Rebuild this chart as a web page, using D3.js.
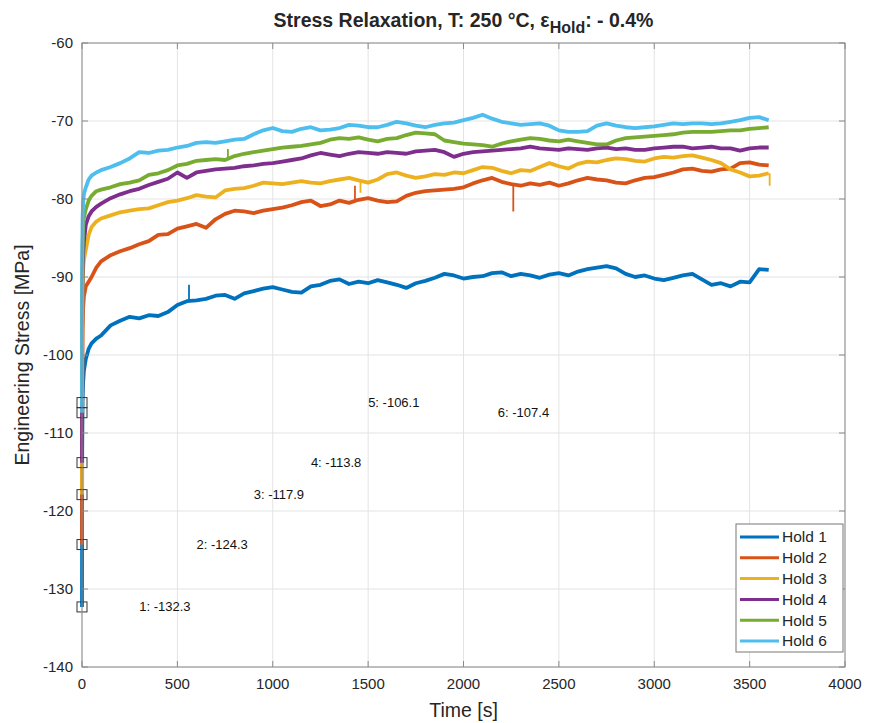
<!DOCTYPE html>
<html>
<head>
<meta charset="utf-8">
<script src="https://cdn.jsdelivr.net/npm/d3@7"></script>
<style>
  body { margin: 0; background: #fff; }
  text { font-family: "Liberation Sans", Arial, sans-serif; fill: #262626; }
</style>
</head>
<body>
<script>
// sample times [s]: dense at the start, then every 50 s
var times = [0, 1, 3, 6, 10, 20, 35, 50, 75];
for (var t = 100; t <= 3600; t += 50) times.push(t);

var names = ["Hold 1", "Hold 2", "Hold 3", "Hold 4", "Hold 5", "Hold 6"];
var colors = ["#0072BD", "#D95319", "#EDB120", "#7E2F8E", "#77AC30", "#4DBEEE"];

var hold1 = [-132.3, -112, -106, -103.5, -102, -100.5, -99.2, -98.5, -97.9,
  -97.5, -96.2, -95.6, -95.1, -95.3, -94.9, -95.0, -94.5, -93.6, -93.1,
  -93.0, -92.8, -92.4, -92.3, -92.8, -92.1, -91.8, -91.5, -91.3, -91.6,
  -91.9, -92.0, -91.2, -91.0, -90.5, -90.3, -90.9, -90.6, -90.8, -90.4,
  -90.7, -91.0, -91.4, -90.8, -90.5, -90.1, -89.6, -89.8, -90.2, -90.0,
  -89.9, -89.5, -89.4, -89.9, -89.6, -89.8, -90.1, -89.7, -89.5, -89.8,
  -89.3, -89.0, -88.8, -88.6, -88.9, -89.6, -90.0, -89.8, -90.2, -90.4,
  -90.1, -89.8, -89.6, -90.3, -91.0, -90.8, -91.2, -90.6, -90.7, -89.0, -89.1];

var hold2 = [-124.3, -105, -97, -94, -92.5, -91.2, -90.6, -90.0, -88.8,
  -88.0, -87.2, -86.7, -86.3, -85.8, -85.4, -84.6, -84.5, -83.8, -83.5,
  -83.2, -83.7, -82.6, -81.9, -81.5, -81.6, -81.8, -81.5, -81.3, -81.1,
  -80.8, -80.4, -80.2, -80.9, -80.7, -80.2, -80.5, -80.1, -79.9, -80.2,
  -80.4, -80.3, -79.6, -79.2, -79.0, -78.9, -78.8, -78.7, -78.5, -78.0,
  -77.6, -77.3, -77.8, -78.1, -78.3, -78.0, -78.2, -77.9, -78.3, -78.0,
  -77.6, -77.3, -77.5, -77.6, -77.9, -78.0, -77.6, -77.3, -77.2, -76.9,
  -76.6, -76.2, -76.1, -76.4, -76.5, -76.2, -76.1, -75.4, -75.3, -75.6, -75.7];

var hold3 = [-117.9, -100, -92, -89, -87.8, -86.5, -84.6, -83.6, -82.9,
  -82.5, -82.1, -81.7, -81.5, -81.3, -81.2, -80.8, -80.4, -80.2, -79.9,
  -79.5, -79.7, -79.8, -78.9, -78.7, -78.6, -78.3, -77.9, -78.0, -78.1,
  -77.9, -77.7, -77.9, -78.0, -77.7, -77.5, -77.3, -77.6, -77.9, -77.5,
  -76.8, -76.6, -77.0, -77.3, -77.1, -76.8, -76.9, -76.6, -76.7, -76.3,
  -75.9, -76.0, -76.4, -76.7, -76.3, -76.4, -75.9, -75.4, -75.8, -76.1,
  -75.5, -75.2, -75.3, -75.0, -74.8, -74.9, -75.1, -75.2, -74.8, -74.6,
  -74.7, -74.5, -74.4, -74.7, -75.0, -75.4, -76.2, -76.6, -77.1, -77.0, -76.7];

var hold4 = [-113.8, -97, -90, -87, -85.5, -83.3, -82.2, -81.6, -81.0,
  -80.6, -79.9, -79.4, -79.0, -78.7, -78.2, -77.8, -77.4, -76.6, -77.3,
  -76.6, -76.4, -76.2, -76.1, -76.0, -75.8, -75.7, -75.5, -75.4, -75.2,
  -75.0, -74.8, -74.4, -74.1, -74.3, -74.5, -74.2, -74.0, -74.1, -74.2,
  -74.0, -74.1, -74.2, -73.9, -73.8, -73.7, -74.0, -74.6, -74.2, -74.0,
  -73.9, -73.8, -73.7, -73.6, -73.5, -73.3, -73.5, -73.6, -73.7, -73.5,
  -73.6, -73.7, -73.5, -73.4, -73.6, -73.5, -73.7, -73.7, -73.5, -73.4,
  -73.3, -73.3, -73.5, -73.4, -73.3, -73.5, -73.5, -73.8, -73.5, -73.4, -73.4];

var hold5 = [-106.1, -92, -86, -83.5, -82.4, -81.3, -80.2, -79.6, -79.0,
  -78.8, -78.5, -78.1, -77.9, -77.6, -76.9, -76.7, -76.3, -75.7, -75.5,
  -75.1, -75.0, -74.9, -75.0, -74.5, -74.2, -74.0, -73.8, -73.6, -73.4,
  -73.3, -73.2, -73.0, -72.8, -72.4, -72.2, -72.3, -72.1, -72.4, -72.6,
  -72.3, -72.2, -71.8, -71.5, -71.6, -71.7, -72.5, -72.7, -72.9, -73.0,
  -73.1, -73.3, -72.9, -72.6, -72.4, -72.2, -72.3, -72.5, -72.6, -72.4,
  -72.6, -72.8, -73.0, -73.0, -72.5, -72.2, -72.1, -72.0, -71.9, -71.8,
  -71.7, -71.5, -71.4, -71.4, -71.4, -71.3, -71.2, -71.2, -71.0, -70.9, -70.8];

var hold6 = [-107.4, -88, -82.5, -80.4, -79.4, -78.5, -77.5, -77.0, -76.6,
  -76.3, -75.9, -75.4, -74.8, -74.0, -74.1, -73.8, -73.7, -73.4, -73.2,
  -72.8, -72.7, -72.8, -72.6, -72.4, -72.3, -71.7, -71.2, -70.9, -71.3,
  -71.4, -71.0, -70.8, -71.2, -71.1, -70.9, -70.5, -70.6, -70.8, -70.8,
  -70.5, -70.1, -70.3, -70.6, -70.8, -70.5, -70.3, -70.2, -69.9, -69.6,
  -69.2, -69.7, -70.1, -70.3, -70.5, -70.4, -70.3, -70.6, -71.2, -71.4,
  -71.4, -71.3, -70.6, -70.3, -70.6, -70.8, -70.9, -70.8, -70.7, -70.5,
  -70.3, -70.4, -70.3, -70.3, -70.4, -70.3, -70.1, -69.9, -69.6, -69.5, -69.9];

var series = [hold1, hold2, hold3, hold4, hold5, hold6];

// short spikes in the signal: series index, time, spike value
var spikeSeries = [0, 1, 2, 1, 4, 2];
var spikeTimes = [561, 1431, 1460, 2261, 765, 3605];
var spikeValues = [-91.0, -78.3, -79.2, -81.6, -73.6, -78.3];

// data tips at t = 0
var tipValues = [-132.3, -124.3, -117.9, -113.8, -106.1, -107.4];
var tipLabelTimes = [300, 600, 900, 1200, 1500, 2180];

var xTicks = [0, 500, 1000, 1500, 2000, 2500, 3000, 3500, 4000];
var yTicks = [-140, -130, -120, -110, -100, -90, -80, -70, -60];

var W = 872, H = 723;
var mLeft = 82, mRight = 845, mTop = 43, mBottom = 667;

var svg = d3.select("body").append("svg")
  .attr("width", W).attr("height", H);

var x = d3.scaleLinear().domain([0, 4000]).range([mLeft, mRight]);
var y = d3.scaleLinear().domain([-140, -60]).range([mBottom, mTop]);

// grid
svg.append("g").selectAll("line").data(xTicks).enter().append("line")
  .attr("x1", d => x(d)).attr("x2", d => x(d))
  .attr("y1", mTop).attr("y2", mBottom)
  .attr("stroke", "#e3e3e3").attr("stroke-width", 1);
svg.append("g").selectAll("line").data(yTicks).enter().append("line")
  .attr("x1", mLeft).attr("x2", mRight)
  .attr("y1", d => y(d)).attr("y2", d => y(d))
  .attr("stroke", "#e3e3e3").attr("stroke-width", 1);

// lines
var line = d3.line()
  .x((d, i) => x(times[i]))
  .y(d => y(d));

series.forEach(function(s, k) {
  svg.append("path")
    .datum(s)
    .attr("d", line)
    .attr("fill", "none")
    .attr("stroke", colors[k])
    .attr("stroke-width", 3.8)
    .attr("stroke-linejoin", "round");
});

// spikes
spikeTimes.forEach(function(st, i) {
  var s = series[spikeSeries[i]];
  var j = Math.min(d3.bisectLeft(times, st), times.length - 1);
  var t0 = times[j - 1], t1 = times[j];
  var base = st >= t1 ? s[j] : s[j - 1] + (s[j] - s[j - 1]) * (st - t0) / (t1 - t0);
  svg.append("line")
    .attr("x1", x(st)).attr("x2", x(st))
    .attr("y1", y(base)).attr("y2", y(spikeValues[i]))
    .attr("stroke", colors[spikeSeries[i]])
    .attr("stroke-width", 1.8);
});

// data tip markers and labels
svg.append("g").selectAll("rect").data(tipValues).enter().append("rect")
  .attr("x", x(0) - 5).attr("y", d => y(d) - 5)
  .attr("width", 10).attr("height", 10)
  .attr("fill", "none").attr("stroke", "#333").attr("stroke-width", 1);

svg.append("g").selectAll("text").data(tipValues).enter().append("text")
  .attr("x", (d, i) => x(tipLabelTimes[i]))
  .attr("y", d => y(d))
  .attr("dy", "0.35em")
  .attr("font-size", 13)
  .style("fill", "#111")
  .text((d, i) => (i + 1) + ": " + d.toFixed(1));

// box and ticks
var axisColor = "#8a8a8a";
svg.append("rect")
  .attr("x", mLeft).attr("y", mTop)
  .attr("width", mRight - mLeft).attr("height", mBottom - mTop)
  .attr("fill", "none").attr("stroke", axisColor).attr("stroke-width", 1);

var tl = 6;
xTicks.forEach(function(d) {
  svg.append("line").attr("x1", x(d)).attr("x2", x(d)).attr("y1", mBottom).attr("y2", mBottom - tl).attr("stroke", axisColor);
  svg.append("line").attr("x1", x(d)).attr("x2", x(d)).attr("y1", mTop).attr("y2", mTop + tl).attr("stroke", axisColor);
});
yTicks.forEach(function(d) {
  svg.append("line").attr("x1", mLeft).attr("x2", mLeft + tl).attr("y1", y(d)).attr("y2", y(d)).attr("stroke", axisColor);
  svg.append("line").attr("x1", mRight).attr("x2", mRight - tl).attr("y1", y(d)).attr("y2", y(d)).attr("stroke", axisColor);
});

svg.append("g").selectAll("text").data(xTicks).enter().append("text")
  .attr("x", d => x(d)).attr("y", mBottom + 22)
  .attr("text-anchor", "middle").attr("font-size", 15)
  .text(d => d);

svg.append("g").selectAll("text").data(yTicks).enter().append("text")
  .attr("x", mLeft - 9).attr("y", d => y(d))
  .attr("dy", "0.35em")
  .attr("text-anchor", "end").attr("font-size", 15)
  .text(d => d);

// axis labels
svg.append("text")
  .attr("x", (mLeft + mRight) / 2).attr("y", 717)
  .attr("text-anchor", "middle").attr("font-size", 19.5)
  .text("Time [s]");

svg.append("text")
  .attr("transform", "translate(29," + ((mTop + mBottom) / 2) + ") rotate(-90)")
  .attr("text-anchor", "middle").attr("font-size", 19.5)
  .text("Engineering Stress [MPa]");

// title
var title = svg.append("text")
  .attr("x", (mLeft + mRight) / 2).attr("y", 27)
  .attr("text-anchor", "middle").attr("font-size", 19.5)
  .attr("font-weight", "bold");
title.append("tspan").text("Stress Relaxation, T: 250 °C, ε");
title.append("tspan").attr("dy", 6).attr("font-size", 16).text("Hold");
title.append("tspan").attr("dy", -6).text(": - 0.4%");

// legend
var lg = svg.append("g").attr("transform", "translate(736,524)");
lg.append("rect").attr("width", 107).attr("height", 128)
  .attr("fill", "#fff").attr("stroke", "#777").attr("stroke-width", 1);
names.forEach(function(n, i) {
  var yy = 13 + i * 20.8;
  lg.append("line").attr("x1", 4).attr("x2", 43).attr("y1", yy).attr("y2", yy)
    .attr("stroke", colors[i]).attr("stroke-width", 3);
  lg.append("text").attr("x", 46).attr("y", yy).attr("dy", "0.35em")
    .attr("font-size", 15.5).text(n);
});
</script>
</body>
</html>
